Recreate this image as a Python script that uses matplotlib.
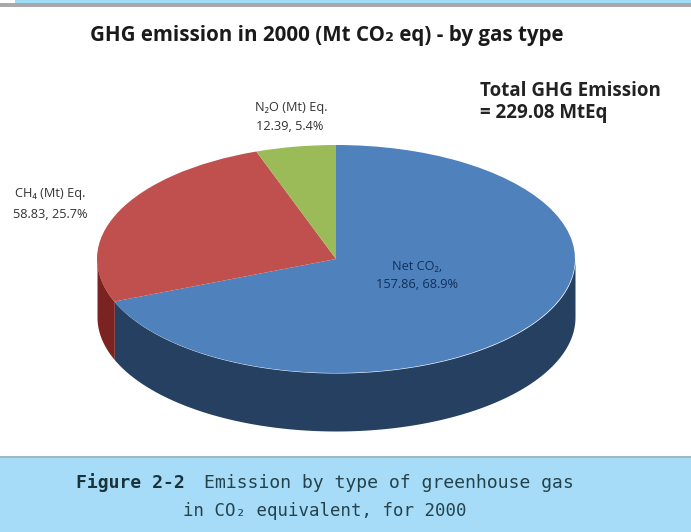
import numpy as np
import matplotlib
matplotlib.use("Agg")
import matplotlib.pyplot as plt
from matplotlib.patches import Rectangle

# values
gases = ["Net CO₂", "CH₄", "N₂O"]
emissions = [157.86, 58.83, 12.39]
shares = [68.9, 25.7, 5.4]
top_colors = ["#4f81bd", "#c0504d", "#9bbb59"]
wall_colors = ["#254061", "#7a2320", "#5f7530"]

W, H = 691, 532
# pie geometry in pixels
cx, cy = 336, 259
rx, ry = 239, 114
depth = 58

fig = plt.figure(figsize=(W / 100, H / 100), dpi=100)
ax = fig.add_axes([0, 0, 1, 1])
ax.set_xlim(0, W)
ax.set_ylim(H, 0)
ax.axis("off")

# page bits: strip on top, caption band at the bottom
ax.add_patch(Rectangle((15, 0), W - 15, 3, color="#9fdcf5", lw=0))
ax.add_patch(Rectangle((0, 3), W, 3.5, color="#a9a9a9", lw=0))
ax.add_patch(Rectangle((0, 456), W, 76, color="#a6dcf8", lw=0))
ax.add_patch(Rectangle((0, 456), W, 2, color="#9db8c4", lw=0))

# side wall first, walk round the front half of the pie
total = sum(emissions)
start = 0.0
for val, col in zip(emissions, wall_colors):
    a0 = start
    a1 = start + val / total * 360
    start = a1
    # clockwise from 12 o'clock, only 90..270 is visible
    lo, hi = max(a0, 90), min(a1, 270)
    if lo >= hi:
        continue
    th = np.radians(np.linspace(lo, hi, 200))
    x = cx + rx * np.sin(th)
    y = cy - ry * np.cos(th)
    ax.fill_between(x, y, y + depth, color=col, lw=0, zorder=2)

# top of the pie, own axes stretched so the circle becomes the ellipse
pie_ax = fig.add_axes([(cx - rx) / W, 1 - (cy + ry) / H, 2 * rx / W, 2 * ry / H])
pie_ax.pie(emissions, colors=top_colors, startangle=90, counterclock=False, radius=1,
           wedgeprops={"lw": 0})
pie_ax.set_aspect("auto")
pie_ax.set_xlim(-1, 1)
pie_ax.set_ylim(-1, 1)
pie_ax.patch.set_alpha(0)
pie_ax.set_zorder(3)

# texts go on a top overlay so they sit above the pie
tx = fig.add_axes([0, 0, 1, 1])
tx.set_xlim(0, W)
tx.set_ylim(H, 0)
tx.axis("off")
tx.set_zorder(5)

sans = ["Open Sans", "DejaVu Sans"]
cap = ["DejaVu Sans Mono"]

tx.text(90, 36, "GHG emission in 2000 (Mt CO₂ eq) - by gas type", family=sans,
        fontsize=14.8, fontweight="bold", color="#1a1a1a", va="center", ha="left")
tx.text(480, 91.5, "Total GHG Emission", family=sans, fontsize=13.5, fontweight="bold",
        color="#222222", va="center", ha="left")
tx.text(480, 113, "= 229.08 MtEq", family=sans, fontsize=13.5, fontweight="bold",
        color="#222222", va="center", ha="left")

tx.text(291, 107, f"{gases[2]} (Mt) Eq.", family=sans, fontsize=9.2, color="#333333",
        ha="center", va="center")
tx.text(290, 127, f"{emissions[2]}, {shares[2]}%", family=sans, fontsize=9.2,
        color="#333333", ha="center", va="center")
tx.text(50, 193, f"{gases[1]} (Mt) Eq.", family=sans, fontsize=9.2, color="#333333",
        ha="center", va="center")
tx.text(50, 214, f"{emissions[1]}, {shares[1]}%", family=sans, fontsize=9.2,
        color="#333333", ha="center", va="center")
tx.text(417, 266, f"{gases[0]},", family=sans, fontsize=9.2, color="#12305a",
        ha="center", va="center")
tx.text(417, 285, f"{emissions[0]}, {shares[0]}%", family=sans, fontsize=9.2,
        color="#12305a", ha="center", va="center")

tx.text(76, 483, "Figure 2-2", family=cap, fontsize=13, fontweight="bold", color="#1a333a",
        ha="left", va="center")
tx.text(204, 483, "Emission by type of greenhouse gas", family=cap, fontsize=13.1,
        color="#24424a", ha="left", va="center")
tx.text(325, 511, "in CO₂ equivalent, for 2000", family=cap, fontsize=12.5, color="#24424a",
        ha="center", va="center")

fig.savefig("out.png", dpi=100)
